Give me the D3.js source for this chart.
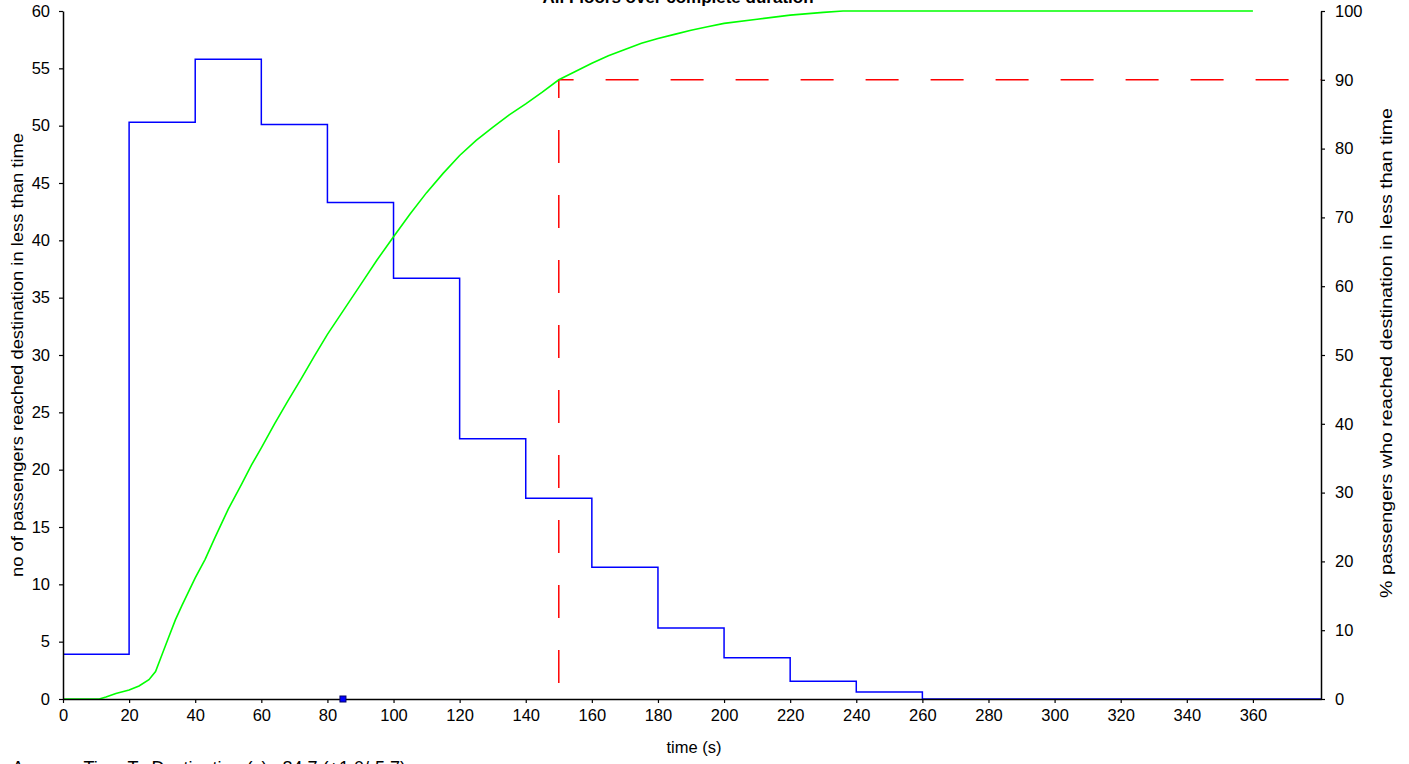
<!DOCTYPE html>
<html>
<head>
<meta charset="utf-8">
<script src="https://cdn.jsdelivr.net/npm/d3@7"></script>
<style>
  body { margin: 0; background: #fff; overflow: hidden; }
  text { font-family: "Liberation Sans", Arial, sans-serif; fill: #000; }
</style>
</head>
<body>
<script>
// histogram of time to destination (20 s bins)
var binStarts = [0, 20, 40, 60, 80, 100, 120, 140, 160, 180, 200, 220, 240, 260];
var binCounts = [3.9, 50.3, 55.8, 50.1, 43.3, 36.7, 22.7, 17.5, 11.5, 6.2, 3.6, 1.55, 0.6, 0];

// cumulative %
var cumTimes = [0, 11, 13, 16, 20, 23, 26, 28, 30, 32, 34, 36, 38, 40, 43, 46, 50, 54, 57, 60,
                64, 68, 72, 76, 80, 85, 90, 95, 100, 105, 110, 115, 120, 125, 130, 135, 140,
                145, 150, 155, 160, 165, 170, 175, 180, 185, 190, 195, 200, 210, 220, 230, 236, 360];
var cumPct = [0, 0, 0.3, 0.8, 1.3, 1.9, 2.8, 4.0, 6.5, 9.0, 11.5, 13.6, 15.6, 17.6, 20.3, 23.5, 27.6, 31.2, 34.0, 36.5,
              40.0, 43.3, 46.5, 49.8, 53.0, 56.6, 60.2, 63.8, 67.2, 70.5, 73.6, 76.4, 79.0, 81.2, 83.1, 84.9, 86.5,
              88.2, 90.0, 91.2, 92.4, 93.5, 94.4, 95.3, 96.0, 96.6, 97.2, 97.7, 98.2, 98.8, 99.4, 99.8, 100, 100];

var avgTime = 84.7;
var targetTime = 150, targetPct = 90;
var xTicks = d3.range(0, 361, 20);
var yLeftTicks = d3.range(0, 61, 5);
var yRightTicks = d3.range(0, 101, 10);

var width = 1409, height = 764;
var margin = { top: 11, right: 88, bottom: 65, left: 63 };
var xMax = 380.6;

var svg = d3.select("body").append("svg")
    .attr("width", width)
    .attr("height", height);

var x = d3.scaleLinear().domain([0, xMax]).range([margin.left, width - margin.right]);
var yL = d3.scaleLinear().domain([0, 60]).range([height - margin.bottom, margin.top]);
var yR = d3.scaleLinear().domain([0, 100]).range([height - margin.bottom, margin.top]);

// title (cut at the top like the original)
svg.append("text")
    .attr("x", 678).attr("y", 3)
    .attr("text-anchor", "middle")
    .style("font-size", "17px").style("font-weight", "bold")
    .text("All Floors over complete duration");

// target lines
var target = [[targetTime, 0], [targetTime, targetPct], [xMax, targetPct]];
svg.append("path")
    .datum(target)
    .attr("fill", "none")
    .attr("stroke", "#ff0000")
    .attr("stroke-width", 1.5)
    .attr("stroke-dasharray", "33,32")
    .attr("stroke-dashoffset", 49)
    .attr("d", d3.line().x(function (d) { return x(d[0]); }).y(function (d) { return yR(d[1]); }));

// histogram step line
var hist = binStarts.map(function (b, i) { return [b, binCounts[i]]; });
hist.push([xMax, 0]);
svg.append("path")
    .datum(hist)
    .attr("fill", "none")
    .attr("stroke", "#0000ff")
    .attr("stroke-width", 1.5)
    .attr("d", d3.line().curve(d3.curveStepAfter)
        .x(function (d) { return x(d[0]); })
        .y(function (d) { return yL(d[1]); }));

// cumulative curve
var cum = cumTimes.map(function (t, i) { return [t, cumPct[i]]; });
svg.append("path")
    .datum(cum)
    .attr("fill", "none")
    .attr("stroke", "#00ff00")
    .attr("stroke-width", 1.6)
    .attr("d", d3.line()
        .x(function (d) { return x(d[0]); })
        .y(function (d) { return yR(d[1]); }));

// axes
function styleAxis(g) {
    g.selectAll("path").attr("stroke", "#000").attr("stroke-width", 1.5);
    g.selectAll("line").attr("stroke", "#000").attr("stroke-width", 1.2);
    g.selectAll("text").style("font-size", "16.5px").attr("fill", "#000")
        .style("font-family", "'Liberation Sans', Arial, sans-serif");
}

svg.append("g")
    .attr("transform", "translate(0," + (height - margin.bottom) + ")")
    .call(d3.axisBottom(x).tickValues(xTicks).tickSize(4).tickSizeOuter(0).tickPadding(6))
    .call(styleAxis);

svg.append("g")
    .attr("transform", "translate(" + margin.left + ",0)")
    .call(d3.axisLeft(yL).tickValues(yLeftTicks).tickSize(4).tickSizeOuter(0).tickPadding(9))
    .call(styleAxis);

svg.append("g")
    .attr("transform", "translate(" + (width - margin.right) + ",0)")
    .call(d3.axisRight(yR).tickValues(yRightTicks).tickSize(4).tickSizeOuter(0).tickPadding(10))
    .call(styleAxis);

// average marker
svg.append("rect")
    .attr("x", x(avgTime) - 3).attr("y", yL(0) - 3)
    .attr("width", 6).attr("height", 6)
    .attr("fill", "#0000ff")
    .attr("stroke", "#000066")
    .attr("stroke-width", 1);

// axis titles
svg.append("text")
    .attr("x", 694)
    .attr("y", 753)
    .attr("text-anchor", "middle")
    .style("font-size", "16.5px")
    .text("time (s)");

svg.append("text")
    .attr("transform", "translate(23," + 355 + ") rotate(-90)")
    .attr("text-anchor", "middle")
    .style("font-size", "16.5px")
    .attr("textLength", 444)
    .attr("lengthAdjust", "spacingAndGlyphs")
    .text("no of passengers reached destination in less than time");

svg.append("text")
    .attr("transform", "translate(1392," + 353 + ") rotate(-90)")
    .attr("text-anchor", "middle")
    .style("font-size", "16.5px")
    .attr("textLength", 490)
    .attr("lengthAdjust", "spacingAndGlyphs")
    .text("% passengers who reached destination in less than time");

svg.append("text")
    .attr("x", 12).attr("y", 774)
    .style("font-size", "18px")
    .text("Average Time To Destination (s) : " + avgTime + " (+1.0/-5.7)");
</script>
</body>
</html>
